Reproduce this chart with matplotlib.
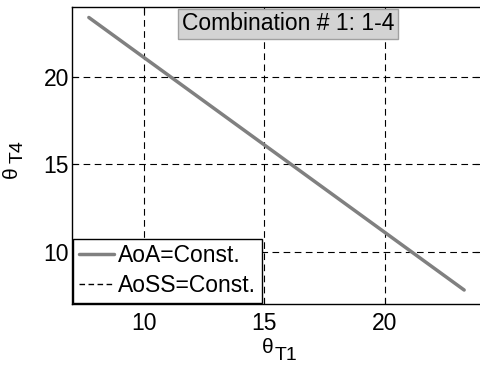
import matplotlib
matplotlib.use("Agg")
import matplotlib.pyplot as plt

# theta_T1 vs theta_T4 for combination 1-4
theta_t1 = [7.7, 10.0, 15.0, 20.0, 23.3]
theta_t4_aoa = [23.4, 21.1, 16.1, 11.1, 7.8]
theta_t4_aoss = [23.4, 21.1, 16.1, 11.1, 7.8]
x_ticks = [10, 15, 20]
y_ticks = [10, 15, 20]

plt.rcParams["font.family"] = ["Liberation Sans", "DejaVu Sans"]

fs = 16.5
W, H = 480, 365
fig = plt.figure(figsize=(W / 100, H / 100), dpi=100)
ax = fig.add_axes([72 / W, 1 - 304 / H, 409 / W, 297 / H])

ax.plot(theta_t1, theta_t4_aoss, color="black", linestyle=(0, (4, 2.5)), linewidth=1.0,
        label="AoSS=Const.", zorder=2)
ax.plot(theta_t1, theta_t4_aoa, color="#808080", linewidth=2.5, label="AoA=Const.",
        zorder=3, solid_capstyle="round")

ax.set_xlim(7, 24)
ax.set_ylim(7, 24)
ax.set_xticks(x_ticks)
ax.set_yticks(y_ticks)
ax.grid(True, color="black", linestyle=(0, (6, 4)), linewidth=0.8)
ax.tick_params(direction="in", length=4, labelsize=fs, top=True, right=True)
ax.tick_params(axis="x", pad=6)
ax.tick_params(axis="y", pad=2)
for s in ax.spines.values():
    s.set_linewidth(1.0)

# axis labels: theta with a near full-size subscript (pixel positions)
fig.text(262 / W, (H - 353) / H, "θ", fontsize=15, ha="left", va="baseline")
fig.text(275 / W, 1 / H, "T1", fontsize=14, ha="left", va="bottom")
fig.text(21 / W, (H - 178) / H, "θ", fontsize=15, rotation=90, ha="right", va="bottom")
fig.text(27 / W, (H - 163) / H, "T4", fontsize=14, rotation=90, ha="right", va="bottom")

handles, labels = ax.get_legend_handles_labels()
leg = ax.legend(handles[::-1], labels[::-1], loc="lower left", fontsize=fs,
                frameon=True, fancybox=False, edgecolor="black",
                borderaxespad=0.05, borderpad=0.25, handlelength=1.55,
                handletextpad=0.15, labelspacing=0.3)
leg.get_frame().set_linewidth(1.0)
leg.get_frame().set_alpha(1)

ax.text(0.528, 0.943, "Combination # 1: 1-4", transform=ax.transAxes,
        ha="center", va="center", fontsize=fs,
        bbox=dict(boxstyle="square,pad=0.15", facecolor="#d3d3d3", edgecolor="#a0a0a0"))

fig.savefig("out.png", dpi=100)
